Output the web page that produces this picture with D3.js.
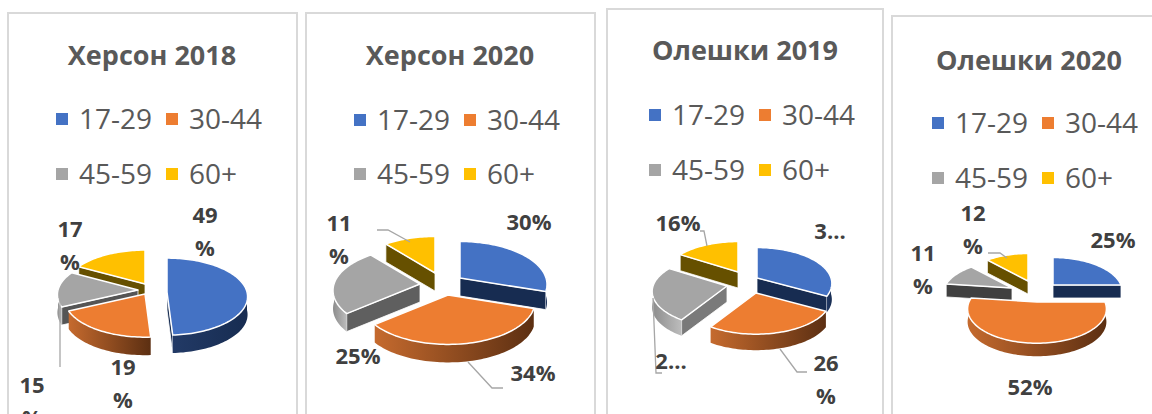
<!DOCTYPE html>
<html><head><meta charset="utf-8">
<style>html,body{margin:0;padding:0;background:#fff;overflow:hidden}svg{display:block}</style>
<script src="https://cdn.jsdelivr.net/npm/d3@7/dist/d3.min.js"></script>
</head><body><svg id="c" width="1152" height="414"></svg>
<script>
const ageGroups = ["17-29","30-44","45-59","60+"];
const chartTitles = ["Херсон 2018","Херсон 2020","Олешки 2019","Олешки 2020"];
const kherson2018 = [49,19,15,17];
const kherson2020 = [30,34,25,11];
const oleshky2019 = [33,26,25,16];
const oleshky2020 = [25,52,11,12];
const seriesByChart = [kherson2018,kherson2020,oleshky2019,oleshky2020];
const labelTexts = [
  [["49","%"],["19","%"],["15","%"],["17","%"]],
  [["30%"],["34%"],["25%"],["11","%"]],
  [["3..."],["26","%"],["2..."],["16%"]],
  [["25%"],["52%"],["11","%"],["12","%"]]
];
const topColors = ["#4472c4","#ed7d31","#a5a5a5","#ffc000"];
const edgeColors = ["#172c51","#5f3013","#5f5f5f","#665000"];
const gradColors = [["#223a66","#172c51"],["#c56a2e","#5c2f12"],["#8c8c8c","#bdbdbd"],["#8a6c00","#665000"]];

const layouts = [
 {frame:[8,13,289],title:[152,55],legend:[56,119,174],cx:145,cy:295,rx:80,ry:38,p:.12,depth:18,grayEdge:"#555555",
  shift:[[22,-3],[0,-1],[-7,-5],[0,-11]],
  labelPos:[[205,215],[123,367],[32,385],[70,229]],
  leaders:[[[60,297],[60,367]]]},
 {frame:[306,13,289],title:[450,55],legend:[354,120,174],cx:446,cy:285,rx:86,ry:42,p:.15,depth:18,grayEdge:"#5f5f5f",
  shift:[[14,-7],[2,10],[-26,-1],[-11,-12]],
  labelPos:[[529,222],[533,373],[358,356],[339,223]],
  leaders:[[[377,230],[388,230],[410,242]],[[468,362],[492,388],[503,388]]]},
 {frame:[607,9,276],title:[745,50],legend:[649,115,170],cx:750,cy:278,rx:74,ry:35,p:.15,depth:16,grayEdge:"#7a7a7a",
  shift:[[7,0],[6,15],[-23,8],[-12,-6]],
  labelPos:[[830,231],[826,363],[671,361],[678,223]],
  leaders:[[[700,231],[704,231],[707,246]],[[780,349],[797,372],[807,372]],[[653,298],[656,373],[662,373]]]},
 {frame:[892,16,270],title:[1029,60],legend:[932,123,178],cx:1037,cy:285,rx:68,ry:33,p:.2,depth:13,grayEdge:"#404040",
  shift:[[16,0],[0,17],[-25,3],[-9,-4]],
  labelPos:[[1113,240],[1030,387],[923,253],[973,213]],
  leaders:[[[988,253],[1000,253],[1007,258]]]}
];

const FONT = "'Open Sans','Noto Sans',sans-serif";
const svg = d3.select("#c");
const defs = svg.append("defs");
const pie = d3.pie().sort(null);
const line = d3.line();

seriesByChart.forEach((values,ci)=>{
  const L = layouts[ci];
  const g = svg.append("g");
  g.append("rect").attr("x",L.frame[0]).attr("y",L.frame[1]).attr("width",L.frame[2]).attr("height",460)
    .attr("fill","#fff").attr("stroke","#d9d9d9").attr("stroke-width",2);
  g.append("text").attr("x",L.title[0]).attr("y",L.title[1]).attr("dy","0.36em").attr("text-anchor","middle")
    .attr("font-family",FONT).attr("font-weight",700).attr("font-size",27).attr("fill","#595959").text(chartTitles[ci]);

  // legend
  ageGroups.forEach((a,i)=>{
    const col=i%2, row=i>1?1:0;
    const x=L.legend[0]+col*110, y=L.legend[1+row];
    g.append("rect").attr("x",x).attr("y",y-6).attr("width",12).attr("height",12).attr("fill",topColors[i]);
    g.append("text").attr("x",x+23).attr("y",y).attr("dy","0.36em").attr("font-family",FONT)
      .attr("font-size",28).attr("fill","#595959").text(a);
  });

  // projection
  const sx=d3.scaleLinear().domain([-1,1]).range([-L.rx,L.rx]);
  const sy=d3.scaleLinear().domain([-1,1]).range([L.ry,-L.ry]);
  const proj=(a,r,dx,dy)=>{
    const u=Math.sin(a)*r, v=Math.cos(a)*r, s=1/(1+L.p*v);
    return [L.cx+dx+sx(u)*s, L.cy+dy+sy(v)*s];
  };
  const arcPts=(a0,a1,dx,dy,dz=0)=>{
    const n=Math.max(2,Math.ceil((a1-a0)/0.03));
    return d3.range(n+1).map(i=>{const p=proj(a0+(a1-a0)*i/n,1,dx,dy);return [p[0],p[1]+dz];});
  };
  const slices=pie(values).map((d,i)=>{
    const [dx,dy]=L.shift[i];
    const mid=(d.startAngle+d.endAngle)/2;
    return {...d,i,dx,dy,key:proj(mid,.6,dx,dy)[1]};
  }).sort((a,b)=>a.key-b.key);

  slices.forEach(d=>{
    const s=g.append("g"), {i,dx,dy}=d, a0=d.startAngle, a1=d.endAngle;
    const apex=proj(0,0,dx,dy);
    const edge=i===2?L.grayEdge:edgeColors[i];
    // radial walls: only those that face the viewer
    [[a0,Math.sin(a0)<-1e-6],[a1,Math.sin(a1)>1e-6]].forEach(([a,visible])=>{
      if(!visible) return;
      const rim=proj(a,1,dx,dy);
      s.append("path").attr("d",line([apex,rim,[rim[0],rim[1]+L.depth],[apex[0],apex[1]+L.depth]])+"Z")
        .attr("fill",edge).attr("stroke","#fff").attr("stroke-width",.8);
    });
    // outer wall
    const w0=Math.max(a0,Math.PI/2), w1=Math.min(a1,Math.PI*1.5);
    if(w1>w0){
      const id=`grad${ci}-${i}`;
      const gr=defs.append("linearGradient").attr("id",id);
      gr.append("stop").attr("offset","0%").attr("stop-color",gradColors[i][0]);
      gr.append("stop").attr("offset","100%").attr("stop-color",gradColors[i][1]);
      const fr=arcPts(w0,w1,dx,dy), bk=arcPts(w0,w1,dx,dy,L.depth).reverse();
      s.append("path").attr("d",line(fr.concat(bk))+"Z").attr("fill",`url(#${id})`);
    }
    // top
    s.append("path").attr("d",line([apex].concat(arcPts(a0,a1,dx,dy)))+"Z")
      .attr("fill",topColors[i]).attr("stroke","#fff").attr("stroke-width",1.5).attr("stroke-linejoin","round");
  });

  // leaders
  L.leaders.forEach(pts=>{
    g.append("path").attr("d",line(pts)).attr("fill","none").attr("stroke","#a6a6a6").attr("stroke-width",1.3);
  });

  // labels
  labelTexts[ci].forEach((lines,i)=>{
    lines.forEach((t,k)=>{
      g.append("text").attr("x",L.labelPos[i][0]).attr("y",L.labelPos[i][1]+k*33).attr("dy","0.36em")
        .attr("text-anchor","middle").attr("font-family",FONT).attr("font-weight",700)
        .attr("font-size",22).attr("fill","#404040").text(t);
    });
  });
});
</script></body></html>
